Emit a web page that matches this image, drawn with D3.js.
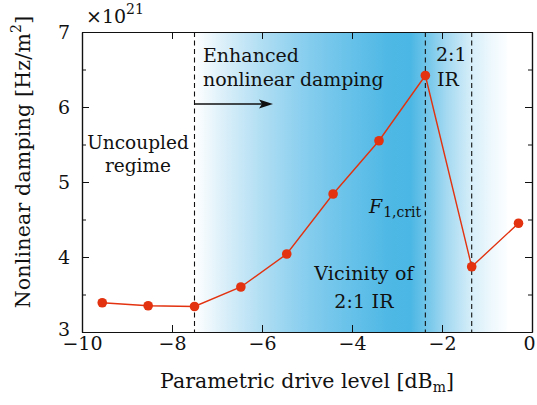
<!DOCTYPE html>
<html>
<head>
<meta charset="utf-8">
<script src="https://cdn.jsdelivr.net/npm/d3@7"></script>
<style>
  html, body { margin: 0; padding: 0; background: #fff; }
</style>
</head>
<body>
<svg id="chart" width="537" height="405"></svg>
<script>
// Drive level (dBm) and measured nonlinear damping (×10^21 Hz/m²)
const driveLevel = [-9.55, -8.53, -7.50, -6.47, -5.45, -4.42, -3.40, -2.37, -1.34, -0.30];
const damping    = [3.39, 3.35, 3.34, 3.60, 4.04, 4.84, 5.55, 6.42, 3.87, 4.45];

// Regime boundaries (dBm)
const boundaries = [-7.50, -2.37, -1.34];

// Axis ticks
const xTicks = [-10, -8, -6, -4, -2, 0];
const yMajor = [3, 4, 5, 6, 7];
const yMinor = [3.5, 4.5, 5.5, 6.5];

// Background shading: [position in dBm, colour]
const shadeStops = [
  [-7.50, "#ffffff"], [-6.80, "#d8eef9"], [-6.00, "#b0def3"], [-5.00, "#86cdee"],
  [-4.00, "#66c1e9"], [-3.20, "#4fb8e5"], [-2.70, "#4bb7e4"], [-2.37, "#6ec4e9"],
  [-1.90, "#a4d9f1"], [-1.34, "#d6eef9"], [-0.90, "#eef8fd"], [-0.55, "#fcfeff"]
];

const FONT = "'DejaVu Serif', serif";

const svg = d3.select("#chart");
const m = { left: 82, right: 532, top: 32, bottom: 332 };

const x = d3.scaleLinear().domain([-10, 0]).range([m.left, m.right]);
const y = d3.scaleLinear().domain([3, 7]).range([m.bottom, m.top]);

const defs = svg.append("defs");
const x0 = x(shadeStops[0][0]), x1 = x(shadeStops[shadeStops.length - 1][0]);
const grad = defs.append("linearGradient")
  .attr("id", "shade")
  .attr("gradientUnits", "userSpaceOnUse")
  .attr("x1", x0).attr("x2", x1)
  .attr("y1", 0).attr("y2", 0);
shadeStops.forEach(([v, c]) => {
  grad.append("stop").attr("offset", (x(v) - x0) / (x1 - x0)).attr("stop-color", c);
});

svg.append("rect")
  .attr("x", x0).attr("y", m.top)
  .attr("width", x1 - x0).attr("height", m.bottom - m.top)
  .attr("fill", "url(#shade)");

// Dashed regime boundaries
svg.selectAll("line.bound").data(boundaries).join("line")
  .attr("class", "bound")
  .attr("x1", d => x(d)).attr("x2", d => x(d))
  .attr("y1", m.top).attr("y2", m.bottom)
  .attr("stroke", "#111").attr("stroke-width", 1.1)
  .attr("stroke-dasharray", "5,3.5");

// Axis frame with inward ticks
const tickFs = 19;
const bottomAxis = d3.axisBottom(x).tickValues(xTicks).tickSizeInner(-7).tickSizeOuter(0)
  .tickFormat(d => d === 0 ? "0" : "\u2212" + Math.abs(d)).tickPadding(5);
const topAxis = d3.axisTop(x).tickValues(xTicks).tickSizeInner(-7).tickSizeOuter(0).tickFormat("");
const leftAxis = d3.axisLeft(y).tickValues(yMajor).tickSizeInner(-7).tickSizeOuter(0)
  .tickFormat(d3.format("d")).tickPadding(12);
const leftMinor = d3.axisLeft(y).tickValues(yMinor).tickSizeInner(-4).tickSizeOuter(0).tickFormat("");
const rightAxis = d3.axisRight(y).tickValues(yMajor).tickSizeInner(-7).tickSizeOuter(0).tickFormat("");
const rightMinor = d3.axisRight(y).tickValues(yMinor).tickSizeInner(-4).tickSizeOuter(0).tickFormat("");

function styleAxis(g) {
  g.attr("font-family", null);
  g.selectAll("path.domain").attr("stroke", "#111").attr("stroke-width", 1.2);
  g.selectAll(".tick line").attr("stroke", "#111").attr("stroke-width", 1);
  g.selectAll(".tick text")
    .attr("font-size", tickFs).attr("fill", "#111")
    .style("font-family", FONT);
}

const gBottom = svg.append("g").attr("transform", `translate(0,${m.bottom})`).call(bottomAxis).call(styleAxis);
// keep the "0" label inside the frame edge
gBottom.selectAll(".tick text").filter(d => d === 0).attr("dx", -3);
svg.append("g").attr("transform", `translate(0,${m.top})`).call(topAxis).call(styleAxis);
const gLeft = svg.append("g").attr("transform", `translate(${m.left},0)`).call(leftAxis).call(styleAxis);
gLeft.selectAll(".tick text").filter(d => d === 3).attr("dy", "0.2em");
svg.append("g").attr("transform", `translate(${m.left},0)`).call(leftMinor).call(styleAxis);
svg.append("g").attr("transform", `translate(${m.right},0)`).call(rightAxis).call(styleAxis);
svg.append("g").attr("transform", `translate(${m.right},0)`).call(rightMinor).call(styleAxis);

// Data line and markers
const pts = driveLevel.map((d, i) => [d, damping[i]]);
svg.append("path")
  .datum(pts)
  .attr("fill", "none")
  .attr("stroke", "#e2320f")
  .attr("stroke-width", 1.4)
  .attr("d", d3.line().x(d => x(d[0])).y(d => y(d[1])));
svg.selectAll("circle.pt").data(pts).join("circle")
  .attr("class", "pt")
  .attr("cx", d => x(d[0])).attr("cy", d => y(d[1]))
  .attr("r", 4.8).attr("fill", "#e2320f");

// Arrow marking the enhanced-damping regime
const arrowY = 104, arrowEnd = 273;
svg.append("line")
  .attr("x1", x(-7.5)).attr("x2", arrowEnd - 8)
  .attr("y1", arrowY).attr("y2", arrowY)
  .attr("stroke", "#111").attr("stroke-width", 1.3);
svg.append("path")
  .attr("d", `M${arrowEnd},${arrowY} L${arrowEnd - 14},${arrowY - 4.5} L${arrowEnd - 11},${arrowY} L${arrowEnd - 14},${arrowY + 4.5} Z`)
  .attr("fill", "#111");

// Text helper
function text(px, py, anchor, size, spacing) {
  return svg.append("text").attr("x", px).attr("y", py)
    .attr("text-anchor", anchor || "start").attr("font-size", size || 19)
    .attr("letter-spacing", spacing || 0)
    .attr("fill", "#111").style("font-family", FONT);
}

// Annotations
text(138, 149, "middle", 18.5).text("Uncoupled");
text(138, 172, "middle", 18.5).text("regime");
text(203, 62, "start", 19).text("Enhanced");
text(203, 86, "start", 19, -0.1).text("nonlinear damping");
text(436, 61, "start", 19).text("2:1");
text(437, 86, "start", 19).text("IR");
text(364, 280, "middle", 19, 0.2).text("Vicinity of");
text(364, 308, "middle", 19, 0.2).text("2:1 IR");

const fcrit = text(369, 213, "start", 19);
fcrit.append("tspan").attr("font-style", "italic").text("F");
fcrit.append("tspan").attr("font-size", 14).attr("dy", 4).attr("dx", 1).text("1,crit");

// Scale multiplier
const mult = text(86, 23, "start", 19);
mult.append("tspan").text("\u00d710");
mult.append("tspan").attr("font-size", 14).attr("dy", -9).text("21");

// Axis titles
const xt = text(307, 388, "middle", 20.5);
xt.append("tspan").text("Parametric drive level [dB");
xt.append("tspan").attr("font-size", 14).attr("dy", 4).text("m");
xt.append("tspan").attr("dy", -4).text("]");

const yt = text(0, 0, "middle", 20.5, 0.2).attr("transform", "translate(30,162) rotate(-90)");
yt.append("tspan").text("Nonlinear damping [Hz/m");
yt.append("tspan").attr("font-size", 14).attr("dy", -9).text("2");
yt.append("tspan").attr("dy", 9).text("]");
</script>
</body>
</html>
